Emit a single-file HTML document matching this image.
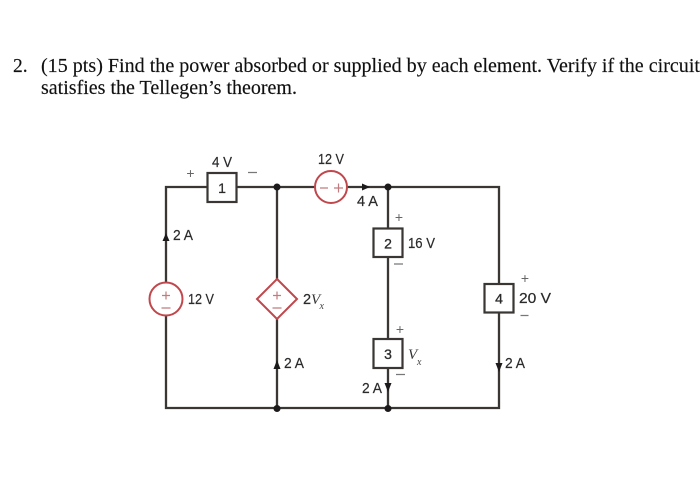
<!DOCTYPE html>
<html><head><meta charset="utf-8"><style>
html,body{margin:0;padding:0;background:#fff;width:700px;height:495px;overflow:hidden}
svg{display:block;filter:blur(.35px)}
.t{font-family:"Liberation Serif",serif;font-size:19.5px;fill:#111;stroke:#111;stroke-width:.15px}
.l{font-family:"Liberation Sans",sans-serif;font-size:14.500px;fill:#2a2a2a;stroke:#2a2a2a;stroke-width:.2px}
.b{font-family:"Liberation Sans",sans-serif;font-size:14px;fill:#2a2a2a;stroke:#2a2a2a;stroke-width:.3px;text-anchor:middle}
.i{font-family:"Liberation Serif",serif;font-style:italic;font-size:15px;fill:#333}
.s{font-family:"Liberation Serif",serif;font-style:italic;font-size:10px;fill:#444}
.p{font-family:"Liberation Sans",sans-serif;font-size:14px;fill:#666;text-anchor:middle}
</style></head><body>
<svg width="700" height="495" viewBox="0 0 700 495" xmlns="http://www.w3.org/2000/svg">
<text class="t" x="13" y="72">2.</text>
<text class="t" x="41" y="72" textLength="659" lengthAdjust="spacingAndGlyphs">(15 pts) Find the power absorbed or supplied by each element. Verify if the circuit</text>
<text class="t" x="41" y="94" textLength="256" lengthAdjust="spacingAndGlyphs">satisfies the Tellegen’s theorem.</text>

<g fill="none" stroke="#3a3633" stroke-width="2.300">
<path d="M166 187H499V408H166Z"/>
<path d="M277 187V408"/>
<path d="M388 187V408"/>
</g>
<g fill="#fff" stroke="#3a3633" stroke-width="2.200">
<rect x="207.500" y="173" width="29" height="29"/>
<rect x="373.500" y="228.500" width="29" height="28.500"/>
<rect x="373.500" y="339" width="29" height="29"/>
<rect x="484.500" y="284" width="29" height="28.500"/>
</g>
<g fill="#fff" stroke="#c0474c" stroke-width="2">
<circle cx="331" cy="187" r="16"/>
<circle cx="166" cy="299" r="16.500"/>
<path d="M277 279L297 299L277 319L257 299Z"/>
</g>
<g stroke="#c27a7e" stroke-width="1.200" fill="none">
<path d="M320 188h8M334 188h9M338.500 183.500v9"/>
<path d="M162 295.500h8M166 291.500v8M161.500 308h9"/>
<path d="M273 295.500h8M277 291.500v8M272.500 308h9"/>
</g>
<g fill="#1c1a1a">
<circle cx="277" cy="187" r="3.500"/>
<circle cx="388" cy="187" r="3.500"/>
<circle cx="277" cy="408.500" r="3.500"/>
<circle cx="388" cy="408.500" r="3.500"/>
<path d="M166 233l3.500 8h-7Z"/>
<path d="M277 360l3.500 9h-7Z"/>
<path d="M370 187l-8-3.500v7Z"/>
<path d="M388 392l-3.500-9h7Z"/>
<path d="M499 372l-3.500-9h7Z"/>
</g>
<text class="b" x="222" y="193">1</text>
<text class="b" x="388" y="248.500">2</text>
<text class="b" x="388" y="359">3</text>
<text class="b" x="499" y="303.500">4</text>

<text class="l" x="212" y="167" textLength="20" lengthAdjust="spacingAndGlyphs">4 V</text>
<text class="l" x="318" y="164" textLength="26" lengthAdjust="spacingAndGlyphs">12 V</text>
<text class="l" x="357" y="206" textLength="21" lengthAdjust="spacingAndGlyphs">4 A</text>
<text class="l" x="173" y="240" textLength="20" lengthAdjust="spacingAndGlyphs">2 A</text>
<text class="l" x="188" y="304" textLength="26" lengthAdjust="spacingAndGlyphs">12 V</text>
<text class="l" x="408" y="248" textLength="27" lengthAdjust="spacingAndGlyphs">16 V</text>
<text class="l" x="519" y="303" textLength="32" lengthAdjust="spacingAndGlyphs">20 V</text>
<text class="l" x="284" y="368" textLength="20" lengthAdjust="spacingAndGlyphs">2 A</text>
<text class="l" x="505" y="368" textLength="20" lengthAdjust="spacingAndGlyphs">2 A</text>
<text class="l" x="362" y="393" textLength="20" lengthAdjust="spacingAndGlyphs">2 A</text>
<text class="l" x="303" y="304">2</text>
<text class="i" x="311" y="304">V</text><text class="s" x="319.500" y="309">x</text>
<text class="i" x="408" y="359">V</text><text class="s" x="417" y="365">x</text>

<text class="p" x="190.500" y="178">+</text>
<text class="p" x="399" y="222">+</text>
<text class="p" x="400" y="334">+</text>
<text class="p" x="525" y="283">+</text>
<g stroke="#777" stroke-width="1.300">
<path d="M248 172.500h9M394 264h9M396 374.500h9M520.500 315.500h8"/>
</g>
</svg>
</body></html>
